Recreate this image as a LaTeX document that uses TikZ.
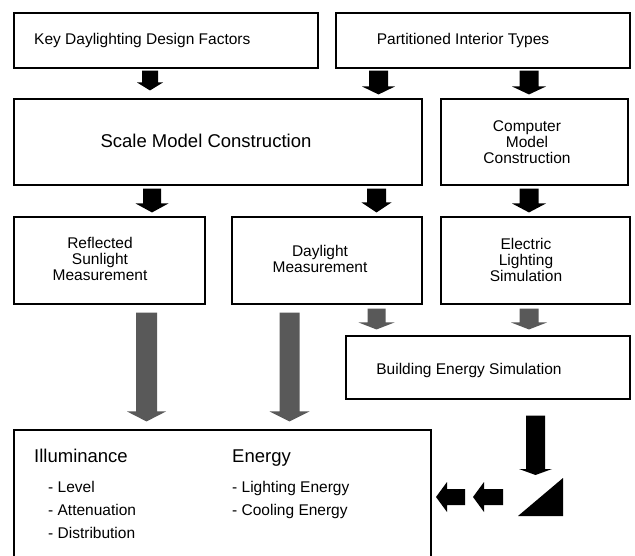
\documentclass[tikz,border=0pt]{standalone}
\usepackage{fontspec}
\setmainfont{Liberation Sans}
\usetikzlibrary{calc}
\newcommand\barrow[8]{% colour, from, to, gap start, gap end, shaft half, head half, head length
  \fill[#1] let \p1=#2, \p2=#3, \n1={\y1-#4pt}, \n2={\y2+#5pt} in
    (\x1-#6pt,\n1) -- (\x1+#6pt,\n1) -- (\x1+#6pt,\n2+#8pt) -- (\x1+#7pt,\n2+#8pt)
    -- (\x1,\n2) -- (\x1-#7pt,\n2+#8pt) -- (\x1-#6pt,\n2+#8pt) -- cycle;}
\begin{document}
\begin{tikzpicture}[x=1pt,y=-1pt,
  box/.style={draw=black, line width=1.1pt, inner sep=0pt},
  txt/.style={font=\fontsize{15.5}{16}\selectfont, inner sep=0pt, align=center},
  big/.style={font=\fontsize{18.5}{20}\selectfont, inner sep=0pt}]
\useasboundingbox[fill=white] (0,0) rectangle (635,556);

% boxes
\node[box, minimum width=304pt, minimum height=55pt] (key) at (166,40.5) {};
\node[box, minimum width=294pt, minimum height=55pt] (part) at (483,40.5) {};
\node[box, minimum width=408pt, minimum height=86pt] (scale) at (218,142) {};
\node[box, minimum width=187pt, minimum height=86pt] (comp) at (534.5,142) {};
\node[box, minimum width=191pt, minimum height=87pt] (refl) at (109.5,260.5) {};
\node[box, minimum width=190pt, minimum height=87pt] (day) at (327,260.5) {};
\node[box, minimum width=189pt, minimum height=87pt] (elec) at (535.5,260.5) {};
\node[box, minimum width=284pt, minimum height=63pt] (bld) at (488,367.5) {};
\node[box, minimum width=417pt, minimum height=134pt] (res) at (222.5,497) {};

% texts
\node[txt, anchor=west] (tkey) at (34,40) {Key Daylighting Design Factors};
\node[txt] (tpart) at (463,40) {Partitioned Interior Types};
\node[big] (tscale) at (206,141) {Scale Model Construction};
\node[txt] (tcomp) at (527,142) {Computer\\Model\\Construction};
\node[txt] (trefl) at (100,259) {Reflected\\Sunlight\\Measurement};
\node[txt] (tday) at (320,259) {Daylight\\Measurement};
\node[txt] (telec) at (526,260) {Electric\\Lighting\\Simulation};
\node[txt] (tbld) at (469,370) {Building Energy Simulation};

\node[big, anchor=base west] (till) at (34,462) {Illuminance};
\node[big, anchor=base west] (teng) at (232,462) {Energy};
\node[txt, anchor=base west] (t1) at (48,492.5) {- Level};
\node[txt, anchor=base west] (t2) at (48,515.5) {- Attenuation};
\node[txt, anchor=base west] (t3) at (48,538.5) {- Distribution};
\node[txt, anchor=base west] (t4) at (232,492.5) {- Lighting Energy};
\node[txt, anchor=base west] (t5) at (232,515.5) {- Cooling Energy};

% arrow columns
\coordinate (xa) at (150,0);
\coordinate (xb) at (378.5,0);
\coordinate (xc) at (529,0);
\coordinate (xa2) at (152,0);
\coordinate (xd) at (376.5,0);
\coordinate (xe) at (146.5,0);
\coordinate (xf) at (289.5,0);
\coordinate (xg) at (535.5,0);
\coordinate (trtop) at (535.5,477);

% black arrows
\barrow{black}{(key.south -| xa)}{(scale.north -| xa)}{2}{8}{8}{13}{8}
\barrow{black}{(part.south -| xb)}{(scale.north -| xb)}{2}{4}{9.5}{16.5}{8}
\barrow{black}{(part.south -| xc)}{(comp.north -| xc)}{2}{4}{9.5}{17}{8}
\barrow{black}{(scale.south -| xa2)}{(refl.north -| xa2)}{3}{4}{9}{16.5}{9}
\barrow{black}{(scale.south -| xd)}{(day.north -| xd)}{3}{4}{9.5}{15}{10}
\barrow{black}{(comp.south -| xc)}{(elec.north -| xc)}{3}{4}{9.5}{17}{9}

% gray arrows
\barrow{black!65}{(refl.south -| xe)}{(res.north -| xe)}{8}{8}{10.5}{19.5}{10}
\barrow{black!65}{(day.south -| xf)}{(res.north -| xf)}{8}{8}{10}{20}{10}
\barrow{black!65}{(day.south -| xd)}{(bld.north -| xd)}{4}{6}{9}{18}{7}
\barrow{black!65}{(elec.south -| xc)}{(bld.north -| xc)}{4}{6}{9.5}{18}{7}

% building -> triangle
\barrow{black}{(bld.south -| xg)}{(trtop)}{16}{2}{9.5}{16.5}{6}

% triangle
\fill[black] (518,516) -- (563,516) -- (563,478) -- cycle;

% left arrows
\fill[black] (436,497) -- (447,482) -- (447,489) -- (465,489) -- (465,505) -- (447,505) -- (447,512) -- cycle;
\fill[black] (473,497) -- (484,482) -- (484,489) -- (503,489) -- (503,505) -- (484,505) -- (484,512) -- cycle;
\end{tikzpicture}
\end{document}
